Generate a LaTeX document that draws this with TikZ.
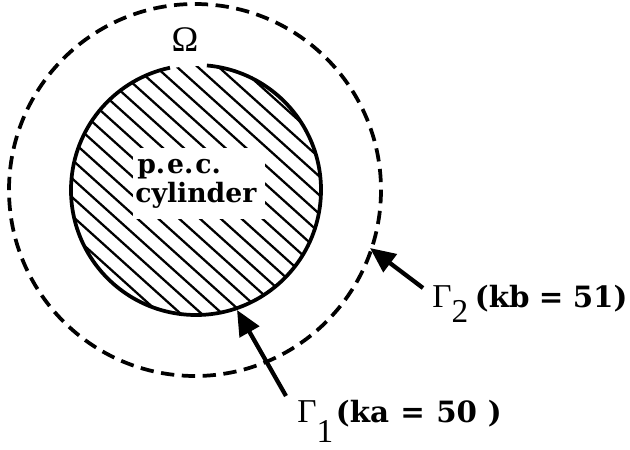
\documentclass[tikz,border=0pt]{standalone}
\usepackage{fontspec}
\setmainfont{DejaVu Serif}
\newfontfamily\tms{Liberation Serif}
\usetikzlibrary{arrows.meta}
\begin{document}
\begin{tikzpicture}[x=0.75pt,y=-0.75pt,
  pecline/.style={line width=2.8pt},
  hatch/.style={line width=1.7pt},
  bound/.style={line width=2.8pt, dash pattern=on 10pt off 5.65pt},
  pointer/.style={line width=3.2pt, -{Triangle[length=19pt,width=16.5pt]}},
  symb/.style={font=\tms\fontsize{25}{30}\selectfont, inner sep=0pt},
  pectext/.style={font=\fontsize{20}{24}\selectfont\bfseries, inner sep=0pt, anchor=base west},
]
\useasboundingbox (0,0) rectangle (630,449);
\coordinate (c) at (196,190);
% hatching
\begin{scope}
  \clip (c) circle[radius=124];
  \foreach \k in {-8,...,15} {
    \draw[hatch] ({161.7+20.8*\k-250},{221.7-225}) -- ++(500,450);
  }
\end{scope}
\fill[white] (133,148) rectangle (265,219);
\node[pectext] (pec1) at (137,173) {p.\hspace{1.5pt}e.\hspace{1.5pt}c.};
\node[pectext] (pec2) at (135,202) {cylinder};
% inner boundary with gap at top
\draw[pecline] (c) ++(-85:125) arc[start angle=-85, end angle=258, radius=125];
% outer dashed boundary
\draw[bound] (195,190) circle[radius=186];
\node[symb, font=\tms\fontsize{27}{30}\selectfont, anchor=base] (omega) at (185,52) {Ω};
% pointers
\coordinate (a2tail) at (423,288);
\coordinate (a2tip) at (370,248);
\draw[pointer] (a2tail) -- (a2tip);
\coordinate (a1tail) at (286,396);
\coordinate (a1tip) at (237,310);
\draw[pointer] (a1tail) -- (a1tip);
% labels
\node[symb, anchor=base west] (g2) at (432,307)
  {Γ\raisebox{-11.25pt}{2}\hspace{5pt}{\fontspec{DejaVu Serif}\fontsize{22}{26}\selectfont\bfseries (kb\hspace{7pt}=\hspace{7pt}51)}};
\node[symb, anchor=base west] (g1) at (297,422)
  {Γ\raisebox{-15.5pt}{1}\hspace{2pt}{\fontspec{DejaVu Serif}\fontsize{22}{26}\selectfont\bfseries (ka\hspace{8.5pt}=\hspace{8.5pt}50\hspace{8pt})}};
\end{tikzpicture}
\end{document}
